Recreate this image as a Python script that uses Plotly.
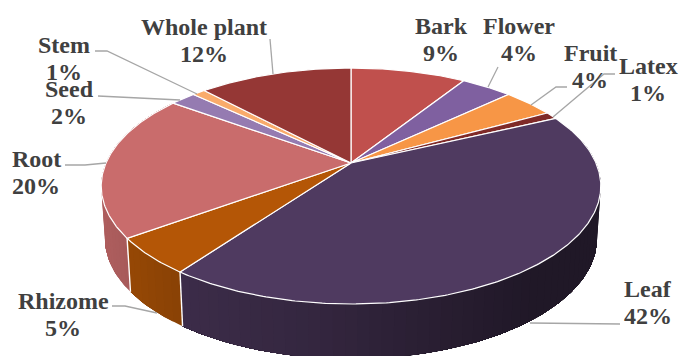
import numpy as np
import plotly.graph_objects as go

# Plant part shares, clockwise from twelve o'clock
categories = ["Bark", "Flower", "Fruit", "Latex", "Leaf", "Rhizome", "Root", "Seed", "Stem", "Whole plant"]
values = [9, 4, 4, 1, 42, 5, 20, 2, 1, 12]
colors = ["#C0504D", "#7F60A0", "#F79646", "#7F2A28", "#4F3A60",
          "#B45606", "#C96C6C", "#957BB1", "#F9AB6B", "#953735"]

# Label anchors: centre x, centre y in page pixels
label_pos = {
    "Bark": (441, 39), "Flower": (519, 39), "Fruit": (590, 66), "Latex": (648, 79),
    "Leaf": (648, 302), "Rhizome": (63, 314), "Root": (36, 172), "Seed": (69, 102),
    "Stem": (64, 58), "Whole plant": (204, 40),
}
leaders = [
    [(270, 39), (273, 74)],
    [(498, 67), (488, 87)],
    [(567, 87), (556, 87), (531, 105)],
    [(615, 74), (604, 74), (553, 117)],
    [(95, 51), (107, 51), (197, 94)],
    [(98, 96), (180, 100)],
    [(65, 165), (85, 165), (106, 163)],
    [(112, 306), (125, 306), (157, 313)],
    [(620, 324), (530, 323)],
]

# Perspective disc projection
CX, CY = 351.0, 163.0
A, B, K = 245.0, 113.5, 0.195
DEPTH, WALL_SX, WALL_SY = 52.0, 0.985, 1.02
FONT = "Liberation Serif"
FONT_SIZE = 24
LINE_GAP = 27


def top_rim(theta):
    u, v = np.sin(theta), np.cos(theta)
    d = 1 + K * v
    return CX + A * u / d, CY - B * v / d


def bottom_rim(theta):
    u, v = np.sin(theta), np.cos(theta)
    d = 1 + K * v
    return CX + WALL_SX * A * u / d, CY + DEPTH - WALL_SY * B * v / d


def shade(hex_color, x):
    f = np.interp(x, [100, 180, 320, 530], [0.87, 0.76, 0.65, 0.41])
    r, g, b = (int(hex_color[i:i + 2], 16) for i in (1, 3, 5))
    return f"rgb({r * f:.0f},{g * f:.0f},{b * f:.0f})"


def polygon(x, y, fill, line_color, line_width):
    return go.Scatter(x=x, y=y, mode="lines", fill="toself", fillcolor=fill,
                      line=dict(color=line_color, width=line_width),
                      hoverinfo="skip", showlegend=False)


fractions = np.array(values) / sum(values)
edges = np.concatenate([[0], np.cumsum(fractions)]) * 2 * np.pi

fig = go.Figure()

# Side wall of each slice; every strip runs to the slice end and the next one
# paints over it, which gives smooth horizontal shading without hairline gaps
for i, color in enumerate(colors):
    t0, t1 = edges[i], edges[i + 1]
    n = max(2, int((t1 - t0) / 0.04))
    steps = np.linspace(t0, t1, n + 1)
    for a, b in zip(steps[:-1], steps[1:]):
        if np.cos((a + b) / 2) > 0.35:
            continue
        seg = np.linspace(a, t1, max(4, int((t1 - a) / 0.02)))
        xt, yt = top_rim(seg)
        xb, yb = bottom_rim(seg[::-1])
        mid_x, _ = top_rim(np.array([(a + b) / 2]))
        c = shade(color, float(mid_x[0]))
        fig.add_trace(polygon(np.r_[xt, xb, xt[0]], np.r_[yt, yb, yt[0]], c, c, 0))

# White seams where front-facing slices meet on the wall
for t in edges[1:-1]:
    if np.cos(t) < -0.3:
        xt, yt = top_rim(np.array([t]))
        xb, yb = bottom_rim(np.array([t]))
        fig.add_trace(go.Scatter(x=[xt[0], xb[0]], y=[yt[0], yb[0]], mode="lines",
                                 line=dict(color="white", width=1.4),
                                 hoverinfo="skip", showlegend=False))

# Top face of each slice
for i, color in enumerate(colors):
    arc = np.linspace(edges[i], edges[i + 1], max(4, int((edges[i + 1] - edges[i]) / 0.01)))
    x, y = top_rim(arc)
    fig.add_trace(polygon(np.r_[CX, x, CX], np.r_[CY, y, CY], color, "white", 1.2))

shapes = []
for pts in leaders:
    path = "M " + " L ".join(f"{x} {y}" for x, y in pts)
    shapes.append(dict(type="path", path=path, xref="x", yref="y",
                       line=dict(color="#A6A6A6", width=1.3), layer="above"))

annotations = []
for c, v in zip(categories, values):
    x, y = label_pos[c]
    for text, offset in ((c, -LINE_GAP / 2), (f"{v}%", LINE_GAP / 2)):
        annotations.append(dict(x=x, y=y + offset, xref="x", yref="y",
                                text=f"<b>{text}</b>", showarrow=False,
                                xanchor="center", yanchor="middle",
                                font=dict(family=FONT, size=FONT_SIZE, color="#404040")))

fig.update_layout(
    width=681, height=356, autosize=False,
    margin=dict(l=0, r=0, t=0, b=0),
    paper_bgcolor="white", plot_bgcolor="white",
    xaxis=dict(range=[0, 681], visible=False, fixedrange=True),
    yaxis=dict(range=[356, 0], visible=False, fixedrange=True),
    shapes=shapes, annotations=annotations, showlegend=False,
)
fig.write_html("out.html", config={"displayModeBar": False})
